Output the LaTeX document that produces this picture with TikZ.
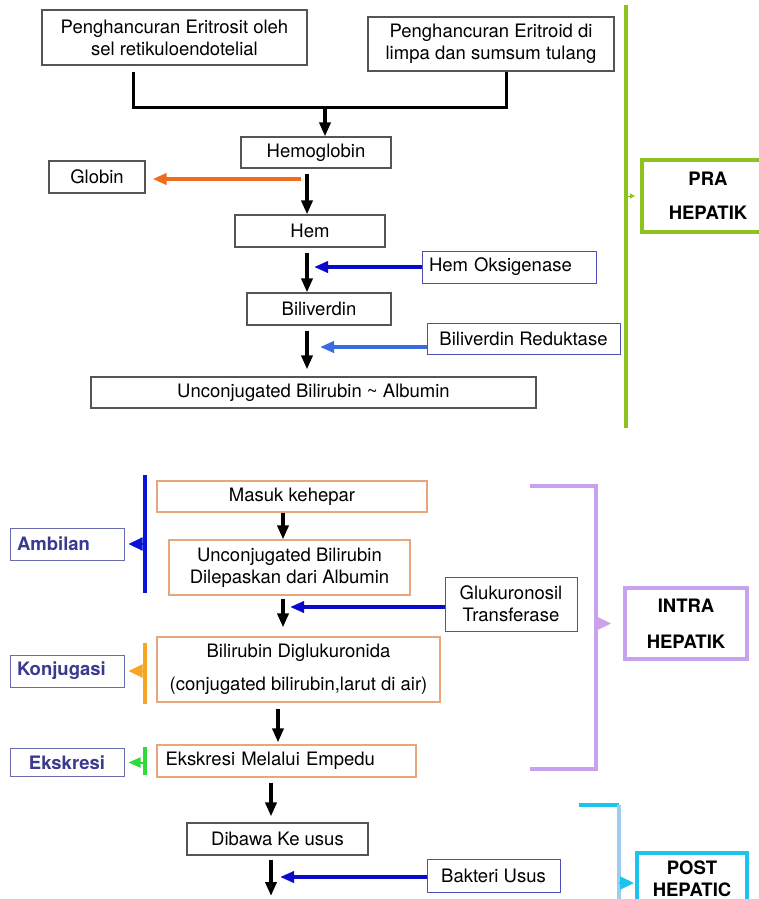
\documentclass[tikz,border=0pt]{standalone}
\usepackage{fontspec}
\setmainfont{TeX Gyre Heros}
\usepackage{xcolor}
\usepackage{tikz}
\usetikzlibrary{arrows.meta,calc}

\definecolor{boxgray}{HTML}{555555}
\definecolor{orangeedge}{HTML}{E6A77F}
\definecolor{enzedge}{HTML}{4F4FB5}
\definecolor{stageedge}{HTML}{6A6AAE}
\definecolor{stagetext}{HTML}{3A3A8E}
\definecolor{globinorange}{HTML}{F26B1D}
\definecolor{hemblue}{HTML}{0A0ACC}
\definecolor{redblue}{HTML}{3B6BE0}
\definecolor{pragreen}{HTML}{8DC21F}
\definecolor{ambblue}{HTML}{0A14D8}
\definecolor{konorange}{HTML}{F5A623}
\definecolor{eksgreen}{HTML}{2EDB3A}
\definecolor{intrapurple}{HTML}{C9A2EE}
\definecolor{postcyan}{HTML}{1CC3EE}
\definecolor{postlight}{HTML}{9FCDEF}

\newcommand{\boxfont}{\fontsize{18.5pt}{22pt}\selectfont}

\begin{document}
\begin{tikzpicture}[x=1pt, y=-1pt]
    % Styles
    \tikzstyle{box} = [rectangle, draw=boxgray, line width=1.2pt, fill=white, inner sep=2pt,
                       align=center, font=\boxfont]
    \tikzstyle{obox} = [box, draw=orangeedge]
    \tikzstyle{enzbox} = [box, draw=enzedge, line width=1pt]
    \tikzstyle{stagebox} = [box, draw=stageedge, line width=1pt, minimum width=114pt,
                            text=stagetext, font=\boxfont\bfseries]
    \tikzstyle{phasebox} = [box, line width=4pt, font=\boxfont\bfseries]
    \tikzstyle{line} = [line width=3pt, black]
    \tikzstyle{arrow} = [line width=3.5pt, black, -{Triangle[length=14pt,width=11pt]}]
    \tikzstyle{oarrow} = [arrow, globinorange]
    \tikzstyle{barrow} = [arrow, hemblue]
    \tikzstyle{larrow} = [arrow, redblue]
    \tikzstyle{bracket} = [line width=4pt]
    \tikzstyle{sidetip} = [line width=2pt, -{Triangle[length=14pt,width=13pt]}]

    \path[fill=white, use as bounding box] (0,0) rectangle (759,899);

    % Nodes: pra hepatik
    \node (eritrosit) [box, minimum width=265pt, minimum height=55pt] at (174.5,37.5)
        {Penghancuran Eritrosit oleh\\sel retikuloendotelial};
    \node (eritroid) [box, minimum width=246pt, minimum height=54pt] at (491,44)
        {Penghancuran Eritroid di\\limpa dan sumsum tulang};
    \node (hemoglobin) [box, minimum width=150pt, minimum height=31pt] at (316,152.5) {Hemoglobin};
    \node (globin) [box, minimum width=96pt, minimum height=32pt] at (97,177) {Globin};
    \node (hem) [box, minimum width=150pt, minimum height=32pt] at (310,231) {Hem};
    \node (oksigenase) [enzbox, align=left, text width=160pt, minimum width=174pt, minimum height=32pt]
        at (509,267) {Hem Oksigenase};
    \node (biliverdin) [box, minimum width=144pt, minimum height=32pt] at (319,309) {Biliverdin};
    \node (reduktase) [enzbox, minimum width=193pt, minimum height=31pt] at (523.5,338.5) {Biliverdin Reduktase};
    \node (ucb) [box, minimum width=445pt, minimum height=31pt] at (313.5,392.5)
        {Unconjugated Bilirubin \textasciitilde{} Albumin};
    \node (pra) [phasebox, draw=pragreen, minimum width=132pt, minimum height=72pt] at (708,196)
        {PRA\\[12pt]HEPATIK};

    % Nodes: intra hepatik
    \node (masuk) [obox, minimum width=270pt, minimum height=31pt] at (292,496.5) {Masuk kehepar};
    \node (lepas) [obox, minimum width=241pt, minimum height=55pt] at (289.5,567.5)
        {Unconjugated Bilirubin\\Dilepaskan dari Albumin};
    \node (transferase) [enzbox, minimum width=132pt, minimum height=54pt] at (511,604)
        {Glukuronosil\\Transferase};
    \node (diglukuronida) [obox, minimum width=283pt, minimum height=65pt] at (298.5,669.5)
        {Bilirubin Diglukuronida\\[11pt](conjugated bilirubin,larut di air)};
    \node (empedu) [obox, align=left, text width=242pt, minimum width=259pt, minimum height=32pt]
        at (286.5,761) {Ekskresi Melalui Empedu};
    \node (ambilan) [stagebox, align=left, text width=100pt, minimum height=32pt] at (67,544) {Ambilan};
    \node (konjugasi) [stagebox, align=left, text width=100pt, minimum height=32pt] at (67,671) {Konjugasi};
    \node (ekskresi) [stagebox, minimum height=28pt] at (67,762.5) {Ekskresi};
    \node (intra) [phasebox, draw=intrapurple, minimum width=122pt, minimum height=71pt] at (686,623.5)
        {INTRA\\[14pt]HEPATIK};

    % Nodes: post hepatic
    \node (usus) [box, minimum width=181pt, minimum height=32pt] at (277.5,839) {Dibawa Ke usus};
    \node (bakteri) [enzbox, minimum width=133pt, minimum height=33pt] at (493.5,875.5) {Bakteri Usus};
    \node (post) [phasebox, draw=postcyan, minimum width=110pt, minimum height=52pt] at (692,879)
        {POST\\HEPATIC};

    % Coordinates
    \coordinate (merge) at (325,107);
    \coordinate (axisA) at (307,0);
    \coordinate (axisB) at (283,0);
    \coordinate (axisC) at (278,0);
    \coordinate (axisD) at (271,0);
    \coordinate (keluar) at (271,896);
    \coordinate (praA) at (626,5);
    \coordinate (praB) at (626,428);
    \coordinate (ambA) at (145,475);
    \coordinate (ambB) at (145,593);
    \coordinate (konA) at (145,643);
    \coordinate (konB) at (145,704);
    \coordinate (eksA) at (145,747);
    \coordinate (eksB) at (145,775);
    \coordinate (intraA) at (530,486);
    \coordinate (intraB) at (530,769);
    \coordinate (postA) at (579,805);
    \coordinate (postB) at (619,805);
    \coordinate (postC) at (619,905);

    % Arrows
    \draw [line] ([xshift=-41.5pt,yshift=-6pt]eritrosit.south) |- (merge) -| ([xshift=15pt]eritroid.south);
    \draw [arrow] (merge) -- (merge |- hemoglobin.north);
    \draw [arrow, shorten <=5pt] (hemoglobin.south -| axisA) -- (hem.north -| axisA);
    \draw [oarrow, shorten >=7pt] ([xshift=-6pt,yshift=-2pt]globin.east -| axisA) -- ([yshift=-2pt]globin.east);
    \draw [arrow, shorten <=5pt] (hem.south -| axisA) -- (biliverdin.north -| axisA);
    \draw [barrow, shorten >=7pt] (oksigenase.west) -- (oksigenase.west -| axisA);
    \draw [arrow, shorten <=5pt, shorten >=7pt] (biliverdin.south -| axisA) -- (ucb.north -| axisA);
    \draw [larrow, shorten >=13pt] ([yshift=-8.5pt]reduktase.west) -- ([yshift=-8.5pt]reduktase.west -| axisA);

    \draw [arrow] (masuk.south -| axisB) -- (lepas.north -| axisB);
    \draw [arrow, shorten <=3pt, shorten >=9pt] (lepas.south -| axisB) -- (diglukuronida.north -| axisB);
    \draw [barrow, shorten >=7pt] ([yshift=-3pt]transferase.west) -- ([yshift=-3pt]transferase.west -| axisB);
    \draw [arrow, shorten <=6pt, shorten >=2pt] (diglukuronida.south -| axisC) -- (empedu.north -| axisC);
    \draw [arrow, shorten <=5pt, shorten >=6pt] (empedu.south -| axisD) -- (usus.north -| axisD);
    \draw [arrow, shorten <=4pt] (usus.south -| axisD) -- (keluar);
    \draw [barrow, shorten >=9pt] ([yshift=-1.5pt]bakteri.west) -- ([yshift=-1.5pt]bakteri.west -| axisD);

    % Brackets
    \draw [bracket, pragreen] (praA) -- (praB);
    \draw [pragreen, line width=1pt, shorten >=5pt, -{Triangle[length=5pt,width=5pt]}]
        ([xshift=-14pt]pra.west) -- (pra.west);
    \draw [bracket, ambblue] (ambA) -- (ambB);
    \draw [sidetip, ambblue, shorten >=4pt] (ambilan.east -| ambA) -- (ambilan.east);
    \draw [bracket, konorange] (konA) -- (konB);
    \draw [sidetip, konorange, shorten >=4pt] (konjugasi.east -| konA) -- (konjugasi.east);
    \draw [bracket, eksgreen] (eksA) -- (eksB);
    \draw [eksgreen, line width=2pt, shorten >=4pt, -{Triangle[length=12pt,width=10pt]}]
        (ekskresi.east -| eksA) -- (ekskresi.east);
    \draw [bracket, intrapurple] (intraA) -- ++(66,0) |- (intraB);
    \draw [sidetip, intrapurple, shorten >=12pt] ([xshift=-27pt]intra.west) -- (intra.west);
    \draw [bracket, postcyan] (postA) -- (postB);
    \draw [bracket, postlight] (postB) -- (postC);
    \draw [sidetip, postcyan, shorten >=1pt] ([xshift=-16pt,yshift=-4pt]post.west) -- ([yshift=-4pt]post.west);

\end{tikzpicture}
\end{document}
